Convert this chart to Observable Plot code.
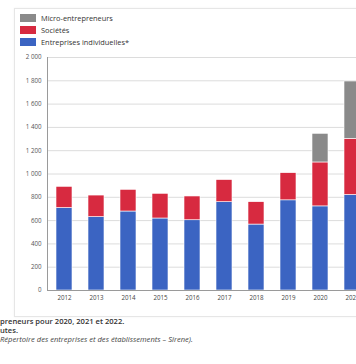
<!DOCTYPE html>
<html>
<head>
<meta charset="utf-8">
<script src="https://cdn.jsdelivr.net/npm/d3@7"></script>
<script src="https://cdn.jsdelivr.net/npm/@observablehq/plot@0.6"></script>
<style>
  html, body { margin: 0; padding: 0; overflow: hidden; background: #fff; width: 356px; height: 364px; }
  body { position: relative; font-family: "Open Sans", sans-serif; }
  #panel { position: absolute; left: 14px; top: 8px; width: 400px; height: 307px; border: 1px solid #e6e6e6; box-shadow: 0 0 2px rgba(0,0,0,0.06); }
  #chart { position: absolute; left: 0; top: 0; width: 380px; }
  #chart svg { max-width: none !important; }
  #legend { position: absolute; left: 20px; top: 12px; font-size: 7.4px; color: #333; }
  .row { display: flex; align-items: center; height: 12px; }
  .sw { width: 16px; height: 8px; margin-right: 5px; }
  .note { position: absolute; font-size: 7.6px; color: #333; white-space: nowrap; line-height: 9px; }
</style>
</head>
<body>
<div id="panel"></div>
<div id="chart"></div>
<div id="legend"></div>
<div class="note" style="left:0px; top:317px; font-weight:600;">preneurs pour 2020, 2021 et 2022.</div>
<div class="note" style="left:0px; top:326px; font-weight:600;">utes.</div>
<div class="note" style="left:0px; top:335px; font-style:italic; color:#444;">Répertoire des entreprises et des établissements – Sirene).</div>
<script>
const years = ["2012","2013","2014","2015","2016","2017","2018","2019","2020","2021"];
const series = ["Entreprises individuelles*", "Sociétés", "Micro-entrepreneurs"];
const legendOrder = ["Micro-entrepreneurs", "Sociétés", "Entreprises individuelles*"];
const colors = ["#3b64c2", "#d72a40", "#8a8a8a"];
const entreprisesIndividuelles = [708, 630, 678, 618, 603, 758, 566, 774, 722, 820];
const societes = [182, 185, 186, 212, 204, 190, 192, 233, 377, 482];
const microEntrepreneurs = [0, 0, 0, 0, 0, 0, 0, 0, 246, 492];
const yTicks = [0, 200, 400, 600, 800, 1000, 1200, 1400, 1600, 1800, 2000];

const values = [entreprisesIndividuelles, societes, microEntrepreneurs];
const data = [];
years.forEach((yr, i) => {
  series.forEach((s, j) => {
    if (values[j][i] > 0) data.push({year: yr, series: s, value: values[j][i]});
  });
});

const fmt = d => d3.format(",")(d).replace(/,/g, " ");

const plot = Plot.plot({
  width: 380,
  height: 316,
  marginLeft: 47,
  marginRight: 12,
  marginTop: 57,
  marginBottom: 26,
  style: {fontFamily: "Open Sans, sans-serif", background: "transparent", maxWidth: "none"},
  x: {domain: years, paddingInner: 0.5, paddingOuter: 0.18, label: null},
  y: {domain: [0, 2000], label: null},
  color: {domain: series, range: colors},
  marks: [
    Plot.gridY(yTicks, {stroke: "#dcdcdc", strokeOpacity: 1}),
    Plot.barY(data, {x: "year", y: "value", fill: "series", stroke: "#fff", strokeWidth: 0.6}),
    Plot.ruleY([0], {stroke: "#9a9a9a"}),
    Plot.frame({anchor: "left", stroke: "#9a9a9a"}),
    Plot.axisY(yTicks, {tickSize: 0, tickPadding: 6, tickFormat: fmt, fontSize: 6.2, fill: "#555", label: null}),
    Plot.axisX({tickSize: 0, tickPadding: 5, fontSize: 6.2, fill: "#444", label: null})
  ]
});
document.getElementById("chart").appendChild(plot);

const legend = document.getElementById("legend");
legendOrder.forEach(s => {
  const row = document.createElement("div");
  row.className = "row";
  const sw = document.createElement("div");
  sw.className = "sw";
  sw.style.background = colors[series.indexOf(s)];
  const t = document.createElement("span");
  t.textContent = s;
  row.appendChild(sw);
  row.appendChild(t);
  legend.appendChild(row);
});
</script>
</body>
</html>
